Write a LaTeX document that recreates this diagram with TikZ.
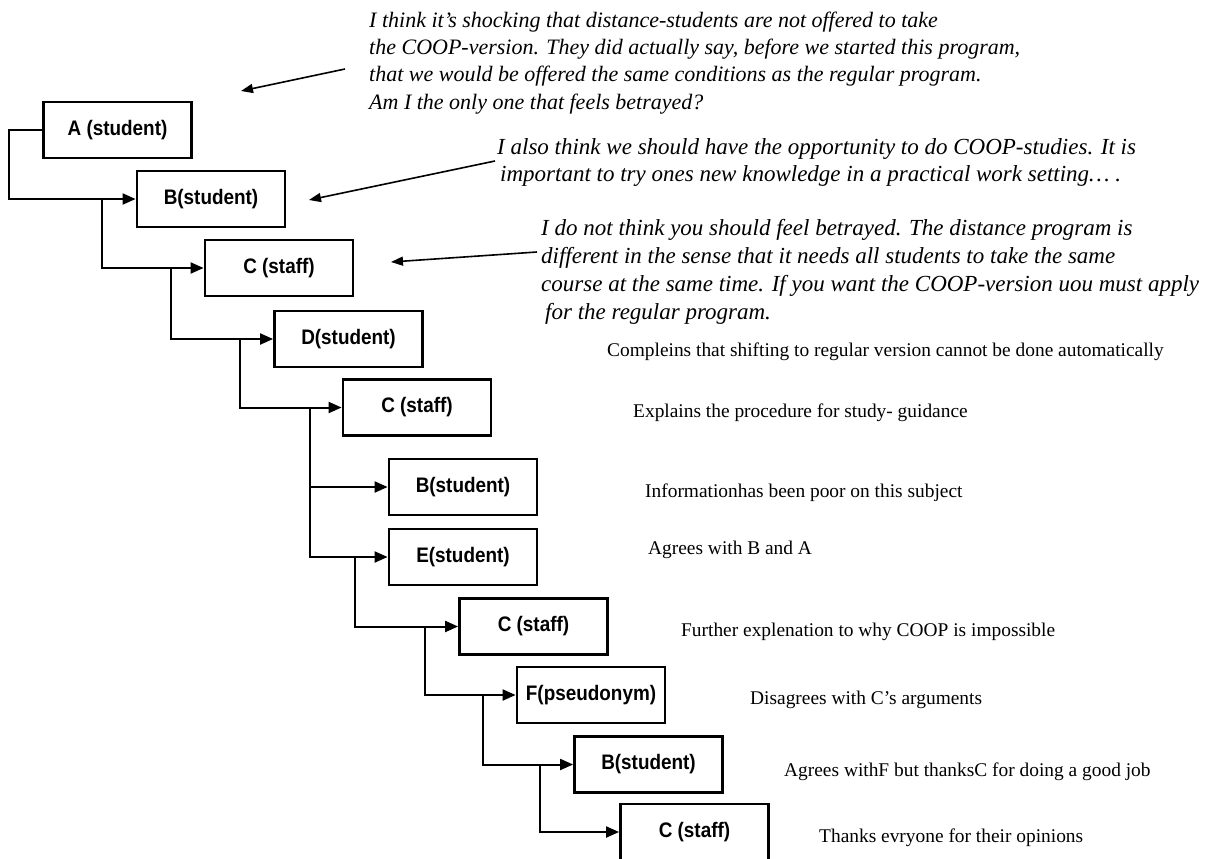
\documentclass[tikz,border=0pt]{standalone}
\usepackage{fontspec}
\setmainfont{Liberation Serif}
\newfontfamily\boxfont[FakeStretch=0.9]{Liberation Sans}
\usetikzlibrary{arrows.meta}
\begin{document}
\begin{tikzpicture}[x=1pt,y=-1pt,
  msg/.style={draw, line width=2.8pt, minimum width=148pt, minimum height=56pt, inner sep=0pt,
    font=\boxfont\bfseries\fontsize{21}{24}\selectfont},
  conn/.style={line width=2pt, -{Triangle[length=13pt,width=11pt]}},
  note/.style={line width=1.6pt, -{Triangle[length=12pt,width=9pt]}},
  quote/.style={anchor=north west, inner sep=0pt, align=left},
  cmt/.style={anchor=base west, inner sep=0pt, font=\fontsize{19.4}{22}\selectfont}]
\useasboundingbox (0,0) rectangle (1207,859);

% message boxes
\node[msg] (A)  at (117.5,130) {A (student)};
\node[msg] (B1) at (211,199)   {B(student)};
\node[msg] (C1) at (279,268)   {C (staff)};
\node[msg] (D)  at (348.5,339) {D(student)};
\node[msg] (C2) at (417,407.5) {C (staff)};
\node[msg] (B2) at (463,487)   {B(student)};
\node[msg] (E)  at (463,557)   {E(student)};
\node[msg] (C3) at (533.5,626.5) {C (staff)};
\node[msg] (F)  at (591,695)   {F(pseudonym)};
\node[msg] (B3) at (648.5,764.5) {B(student)};
\node[msg] (C4) at (694.5,832) {C (staff)};

% reply connectors
\draw[conn] (A.west) -- ++(-33,0) |- (B1.west);
\path (B1.west) ++(-34,0) coordinate (j2);
\draw[conn] (j2) |- (C1.west);
\path (C1.west) ++(-33,0) coordinate (j3);
\draw[conn] (j3) |- (D.west);
\path (D.west) ++(-33,0) coordinate (j4);
\draw[conn] (j4) |- (C2.west);
\path (C2.west) ++(-32,0) coordinate (j5);
\draw[conn] (j5) |- (B2.west);
\draw[conn] (j5) |- (E.west);
\path (E.west) ++(-33,0) coordinate (j6);
\draw[conn] (j6) |- (C3.west);
\path (C3.west) ++(-33,0) coordinate (j7);
\draw[conn] (j7) |- (F.west);
\path (F.west) ++(-33,0) coordinate (j8);
\draw[conn] (j8) |- (B3.west);
\path (B3.west) ++(-33,0) coordinate (j9);
\draw[conn] (j9) |- (C4.west);

% quoted messages
\node[quote, font=\itshape\fontsize{22}{27.3}\selectfont] (q1) at (369,11.5)
  {I think it’s shocking that distance-students are not offered to take\\
   the COOP-version. They did actually say, before we started this program,\\
   that we would be offered the same conditions as the regular program.\\
   Am I the only one that feels betrayed?};
\node[quote, font=\itshape\fontsize{23}{27.5}\selectfont] (q2) at (497,138)
  {I also think we should have the opportunity to do COOP-studies. It is\\
   \hspace{3pt}important to try ones new knowledge in a practical work setting… .};
\node[quote, font=\itshape\fontsize{23}{28}\selectfont] (q3) at (541,219)
  {I do not think you should feel betrayed. The distance program is\\
   different in the sense that it needs all students to take the same\\
   course at the same time. If you want the COOP-version uou must apply\\
   \hspace{4pt}for the regular program.};

% annotation arrows
\coordinate (a1s) at (345,69);  \coordinate (a1e) at (241,91);
\coordinate (a2s) at (495,161); \coordinate (a2e) at (309,200);
\coordinate (a3s) at (537,252); \coordinate (a3e) at (391,262);
\draw[note] (a1s) -- (a1e);
\draw[note] (a2s) -- (a2e);
\draw[note] (a3s) -- (a3e);

% comments
\node[cmt] (k1) at (607,356) {Compleins that shifting to regular version cannot be done automatically};
\node[cmt] (k2) at (633,417) {Explains the procedure for study- guidance};
\node[cmt] (k3) at (645,497) {Informationhas been poor on this subject};
\node[cmt] (k4) at (648,554) {Agrees with B and A};
\node[cmt] (k5) at (681,636) {Further explenation to why COOP is impossible};
\node[cmt] (k6) at (750,704) {Disagrees with C’s arguments};
\node[cmt] (k7) at (784,776) {Agrees withF but thanksC for doing a good job};
\node[cmt] (k8) at (819,842) {Thanks evryone for their opinions};
\end{tikzpicture}
\end{document}
